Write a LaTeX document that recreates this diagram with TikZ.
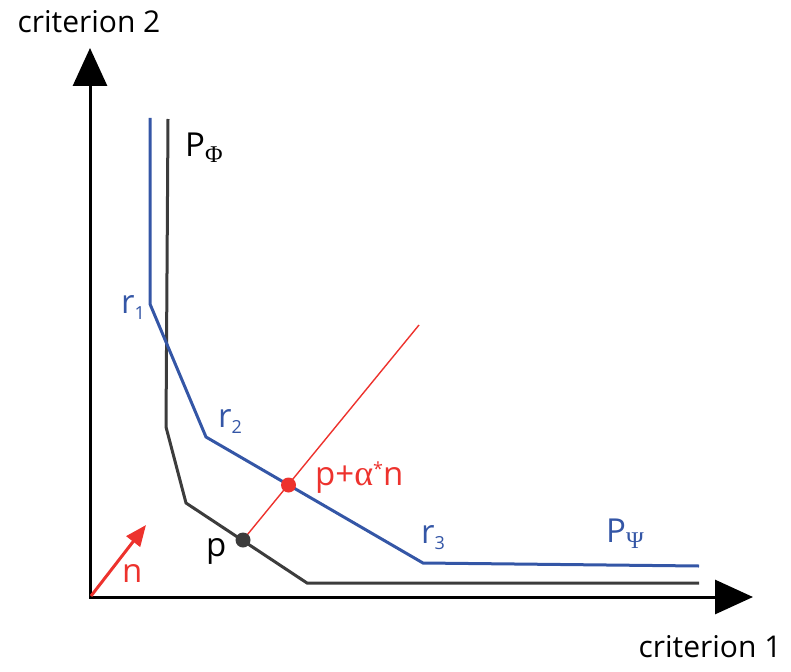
\documentclass[tikz,border=0pt]{standalone}
\usepackage{fontspec}
\setmainfont{Open Sans}
\newfontfamily\grk{Liberation Serif}
\usetikzlibrary{arrows.meta}
\definecolor{cblue}{RGB}{52,86,166}
\definecolor{cred}{RGB}{237,50,45}
\definecolor{cdark}{RGB}{60,60,60}
\newcommand{\lsub}[1]{\raisebox{-6pt}{\grk\fontsize{24}{24}\selectfont #1}}
\newcommand{\nsub}[1]{\raisebox{-6pt}{\fontsize{18}{18}\selectfont #1}}
\tikzset{
  axisline/.style={line width=3pt, line join=miter,
    {Triangle[length=38pt,width=34pt]}-{Triangle[length=38pt,width=34pt]}},
  curve/.style={line width=3pt, line join=miter},
  lbl/.style={inner sep=0pt, anchor=base west, font=\fontsize{33}{33}\selectfont},
  axlbl/.style={inner sep=0pt, anchor=base, font=\fontsize{30}{30}\selectfont},
  dot/.style={circle, inner sep=0pt, minimum size=15pt}
}
\begin{document}
\begin{tikzpicture}[x=1pt,y=-1pt]
\useasboundingbox (0,0) rectangle (791,671);
% axes
\coordinate (O) at (90,597);
\coordinate (Ytip) at (90,48);
\coordinate (Xtip) at (753,597);
\draw[axisline] (Ytip) -- (O) -- (Xtip);
% curves
\coordinate (b0) at (168,119);
\coordinate (b1) at (166,427);
\coordinate (b2) at (186,503);
\coordinate (b3) at (307,583);
\coordinate (b4) at (699,583);
\draw[curve, cdark] (b0) -- (b1) -- (b2) -- (b3) -- (b4);
\coordinate (u0) at (150,118);
\coordinate (u1) at (150,304);
\coordinate (u2) at (206,437);
\coordinate (u3) at (423,563);
\coordinate (u4) at (699,566);
\draw[curve, cblue] (u0) -- (u1) -- (u2) -- (u3) -- (u4);
% red line and points
\coordinate (rtop) at (419,325);
\node[dot] (p) at (243,540) {};
\node[dot] (q) at (288.5,485) {};
\draw[cred, line width=1.4pt] (p.center) -- (rtop);
\node[dot, fill=cdark] at (p) {};
\node[dot, fill=cred] at (q) {};
% normal vector
\coordinate (n0) at (91,596);
\coordinate (n1) at (146,525);
\draw[cred, line width=3pt, -{Triangle[length=21pt,width=17pt]}] (n0) -- (n1);
% labels
\node[axlbl] (c2) at (89,33) {criterion 2};
\node[axlbl] (c1) at (710,657) {criterion 1};
\node[lbl] (PPhi) at (185,157) {P\lsub{Φ}};
\node[lbl, cblue] (PPsi) at (606,542) {P\lsub{Ψ}};
\node[lbl, cblue] (r1) at (121,313) {r\nsub{1}};
\node[lbl, cblue] (r2) at (218,427) {r\nsub{2}};
\node[lbl, cblue] (r3) at (421,543) {r\nsub{3}};
\node[lbl] (plbl) at (206,556) {p};
\node[lbl, cred] (qlbl) at (315,485) {p+{\grk\fontsize{36}{36}\selectfont α}\raisebox{10pt}{\fontsize{18}{18}\selectfont *}n};
\node[lbl, cred] (nlbl) at (122,582) {n};
\end{tikzpicture}
\end{document}
